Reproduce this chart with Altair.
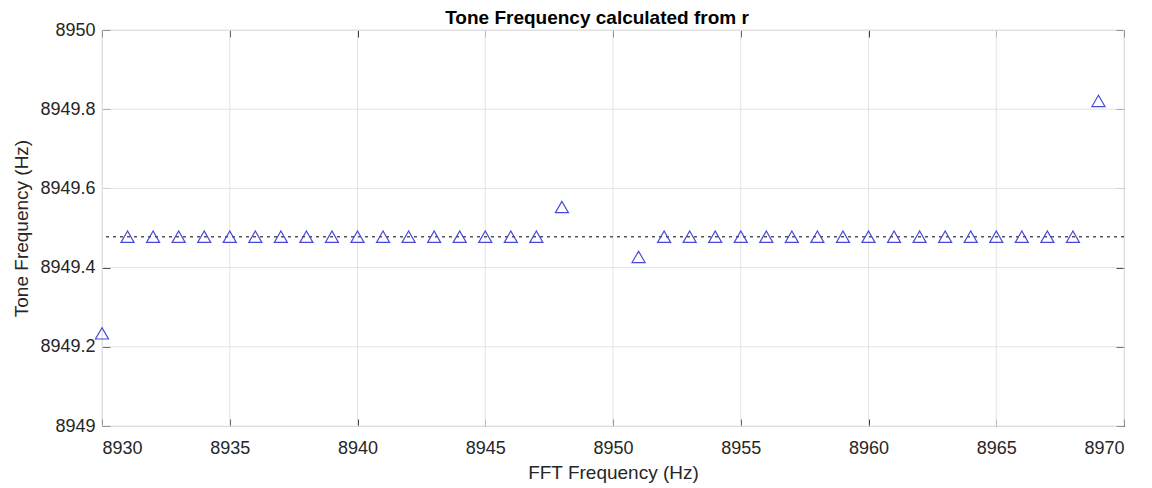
import altair as alt
import pandas as pd

# data
fft_freq = [8930, 8931, 8932, 8933, 8934, 8935, 8936, 8937, 8938, 8939,
            8940, 8941, 8942, 8943, 8944, 8945, 8946, 8947, 8948,
            8951, 8952, 8953, 8954, 8955, 8956, 8957, 8958, 8959, 8960,
            8961, 8962, 8963, 8964, 8965, 8966, 8967, 8968, 8969]
tone_freq = [8949.234] + [8949.478] * 17 + [8949.553, 8949.427] + [8949.478] * 17 + [8949.821]
ref_level = [8949.478]
x_ticks = [8930, 8935, 8940, 8945, 8950, 8955, 8960, 8965, 8970]
y_ticks = [8949.0, 8949.2, 8949.4, 8949.6, 8949.8, 8950.0]

pts = pd.DataFrame({"fft": fft_freq, "tone": tone_freq})
ref = pd.DataFrame({"tone": ref_level})
gx = pd.DataFrame({"fft": x_ticks})
gy = pd.DataFrame({"tone": y_ticks})

FONT = "Liberation Sans"
AX = "#404040"
xs = alt.Scale(domain=[8930, 8970], nice=False, zero=False)
ys = alt.Scale(domain=[8949, 8950], nice=False, zero=False)

tick_style = dict(domain=False, tickColor=AX, tickWidth=1)
label_style = dict(labelFont=FONT, labelFontSize=18, labelColor="#262626", titleFont=FONT,
                   titleFontSize=19, titleFontWeight="normal", titleColor="#262626")

grid_x = alt.Chart(gx).mark_rule(color="#e3e3e3", strokeWidth=1).encode(
    x=alt.X("fft:Q", scale=xs,
            axis=alt.Axis(orient="top", values=x_ticks, labels=False, title=None,
                          tickSize=7, offset=-7, grid=False, **tick_style))
)
grid_y = alt.Chart(gy).mark_rule(color="#e3e3e3", strokeWidth=1).encode(
    y=alt.Y("tone:Q", scale=ys,
            axis=alt.Axis(orient="right", values=y_ticks, labels=False, title=None,
                          tickSize=8, offset=-8, grid=False, **tick_style))
)
line = alt.Chart(ref).mark_rule(color="#555555", strokeWidth=1.5, strokeDash=[3, 4]).encode(
    y=alt.Y("tone:Q", scale=ys, axis=None)
)
points = alt.Chart(pts).mark_point(shape="triangle-up", size=170, filled=False,
                                   color="#4848d8", strokeWidth=1.2, opacity=1).encode(
    x=alt.X("fft:Q", scale=xs,
            axis=alt.Axis(orient="bottom", values=x_ticks, title="FFT Frequency (Hz)",
                          tickSize=7, offset=-7, labelPadding=13, titlePadding=6,
                          grid=False, format="d", **tick_style, **label_style)),
    y=alt.Y("tone:Q", scale=ys,
            axis=alt.Axis(orient="left", values=y_ticks, title="Tone Frequency (Hz)",
                          tickSize=8, offset=-8, labelPadding=7, titlePadding=8,
                          grid=False, labelExpr="format(datum.value, '.10~g')",
                          **tick_style, **label_style)),
)

chart = alt.layer(grid_x, grid_y, line, points).resolve_axis(
    x="independent", y="independent"
).properties(
    width=1022, height=396,
    title=alt.TitleParams("Tone Frequency calculated from r", font=FONT, fontSize=19,
                          fontWeight="bold", color="#000000", offset=-7, dx=-16),
    autosize=alt.AutoSizeParams(type="none"),
    padding={"left": 102, "top": 30, "right": 28, "bottom": 62},
).configure_view(stroke=AX, strokeWidth=1.3).configure(background="white")

chart.save("out.html", embed_options={"renderer": "svg", "actions": False})
